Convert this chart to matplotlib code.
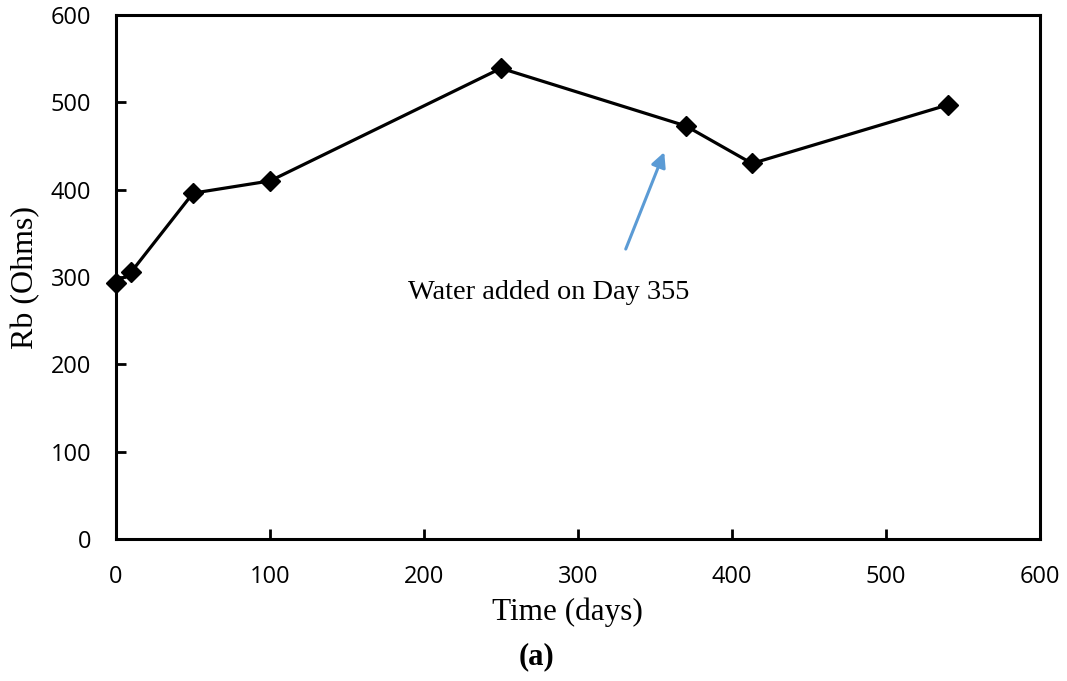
import matplotlib
matplotlib.use("Agg")
import matplotlib.pyplot as plt

days = [0, 10, 50, 100, 250, 370, 413, 540]
rb = [293, 306, 396, 410, 539, 473, 430, 497]
xticks = [0, 100, 200, 300, 400, 500, 600]
yticks = [0, 100, 200, 300, 400, 500, 600]
annot_text = "Water added on Day 355"
arrow_head = (356, 443)
arrow_tail = (331, 332)

fig = plt.figure(figsize=(10.67, 6.81), dpi=100)
ax = fig.add_axes([116/1067, 1-539/681, (1040-116)/1067, (539-15)/681])

ax.plot(days, rb, color="black", lw=2.3, marker="D", markersize=10,
        markerfacecolor="black", markeredgecolor="black", clip_on=False, zorder=3)

ax.set_xlim(0, 600)
ax.set_ylim(0, 600)
ax.set_xticks(xticks)
ax.set_yticks(yticks)
for s in ax.spines.values():
    s.set_linewidth(2.2)
    s.set_color("black")
ax.tick_params(direction="in", length=7, width=2, labelsize=17)
ax.tick_params(axis="y", pad=18)
ax.tick_params(axis="x", pad=19)
for lab in ax.get_xticklabels() + ax.get_yticklabels():
    lab.set_fontfamily("Open Sans")

serif = "Liberation Serif"
fig.text(26/1067, 1-277/681, "Rb (Ohms)", fontfamily=serif, fontsize=23,
         rotation=90, ha="center", va="center")
fig.text(567/1067, 1-612/681, "Time (days)", fontfamily=serif, fontsize=22.5,
         ha="center", va="center")
fig.text(536/1067, 1-657/681, "(a)", fontfamily=serif, fontsize=22,
         fontweight="bold", ha="center", va="center")

ax.annotate("", xy=arrow_head, xytext=arrow_tail,
            arrowprops=dict(arrowstyle="-|>", color="#5B9BD5", lw=2.2,
                            mutation_scale=22, shrinkA=0, shrinkB=0))
ax.text(281, 282, annot_text, fontfamily=serif, fontsize=20.4,
        ha="center", va="center")

fig.savefig("out.png", dpi=100)
